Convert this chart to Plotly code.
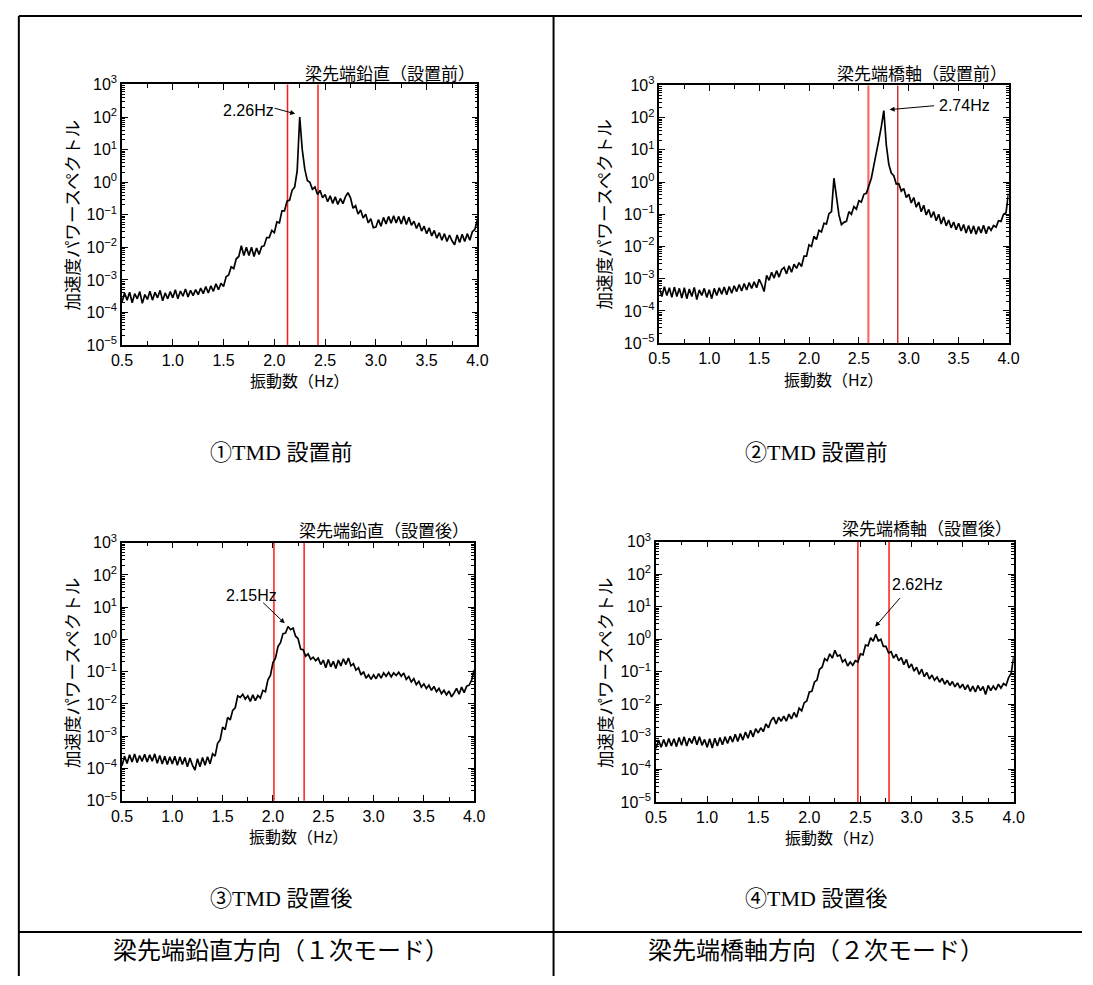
import plotly.graph_objects as go

# ---------------- data ----------------
# frequency grid (Hz), 0.025 Hz spacing, 0.5 .. 4.0
freq = [round(0.5 + 0.025 * i, 3) for i in range(141)]

# log10 of acceleration power spectrum
p1_log10 = [
    -3.68, -3.40, -3.62, -3.38, -3.70, -3.42, -3.58, -3.36, -3.72, -3.45,
    -3.60, -3.35, -3.62, -3.38, -3.55, -3.32, -3.64, -3.40, -3.58, -3.36,
    -3.55, -3.30, -3.58, -3.34, -3.50, -3.28, -3.52, -3.32, -3.48, -3.30,
    -3.45, -3.25, -3.42, -3.20, -3.40, -3.18, -3.35, -3.12, -3.30, -3.10,
    -3.20, -2.90, -2.85, -2.60, -2.65, -2.35, -2.28, -1.95, -2.25, -2.00,
    -2.25, -2.00, -2.28, -2.02, -2.22, -1.98, -1.95, -1.70, -1.70, -1.48,
    -1.55, -1.22, -1.25, -0.88, -0.88, -0.58, -0.55, -0.25, -0.15, 0.35,
    2.00, 1.00, 0.40, 0.05, 0.00, -0.22, -0.15, -0.38, -0.25, -0.48,
    -0.38, -0.60, -0.42, -0.65, -0.45, -0.68, -0.50, -0.66, -0.45, -0.32,
    -0.48, -0.80, -0.72, -0.98, -0.85, -1.10, -0.98, -1.25, -1.12, -1.40,
    -1.38, -1.15, -1.35, -1.08, -1.28, -1.05, -1.26, -1.03, -1.25, -1.05,
    -1.28, -1.04, -1.30, -1.08, -1.32, -1.20, -1.42, -1.25, -1.50, -1.35,
    -1.58, -1.40, -1.65, -1.48, -1.72, -1.55, -1.78, -1.58, -1.82, -1.62,
    -1.80, -1.92, -1.62, -1.85, -1.60, -1.82, -1.58, -1.78, -1.52, -1.45,
    -1.15,
]
p2_log10 = [
    -3.30, -3.55, -3.25, -3.52, -3.28, -3.58, -3.26, -3.55, -3.30, -3.60,
    -3.28, -3.62, -3.32, -3.55, -3.27, -3.65, -3.35, -3.52, -3.30, -3.58,
    -3.34, -3.62, -3.30, -3.52, -3.28, -3.48, -3.26, -3.50, -3.24, -3.45,
    -3.22, -3.40, -3.18, -3.38, -3.15, -3.35, -3.12, -3.30, -3.10, -3.28,
    -3.02, -3.18, -3.40, -2.90, -3.05, -2.80, -2.98, -2.75, -2.95, -2.72,
    -2.65, -2.85, -2.60, -2.80, -2.55, -2.68, -2.50, -2.62, -2.30, -2.30,
    -1.95, -2.00, -1.68, -1.78, -1.50, -1.55, -1.28, -1.30, -0.98, -0.92,
    0.12, -0.45, -1.02, -1.32, -1.25, -1.22, -0.92, -1.00, -0.76, -0.84,
    -0.58, -0.62, -0.38, -0.35, -0.10, 0.12, 0.52, 0.88, 1.30, 1.72,
    2.22, 1.15, 0.55, 0.28, 0.20, -0.06, -0.05, -0.28, -0.20, -0.48,
    -0.38, -0.65, -0.48, -0.78, -0.62, -0.92, -0.72, -1.02, -0.85, -1.10,
    -0.92, -1.20, -1.00, -1.30, -1.08, -1.36, -1.18, -1.42, -1.24, -1.48,
    -1.28, -1.52, -1.32, -1.58, -1.35, -1.60, -1.36, -1.62, -1.38, -1.58,
    -1.34, -1.60, -1.38, -1.50, -1.35, -1.40, -1.20, -1.22, -1.00, -0.95,
    -0.35,
]
p3_log10 = [
    -3.92, -3.62, -3.85, -3.58, -3.80, -3.55, -3.82, -3.60, -3.78, -3.56,
    -3.80, -3.58, -3.78, -3.55, -3.84, -3.60, -3.86, -3.62, -3.88, -3.64,
    -3.86, -3.62, -3.90, -3.64, -3.88, -3.66, -3.95, -3.68, -3.90, -4.05,
    -3.70, -3.95, -3.66, -3.90, -3.64, -3.86, -3.55, -3.62, -3.22, -3.12,
    -2.72, -2.80, -2.42, -2.50, -2.20, -2.12, -1.75, -1.80, -1.70, -1.85,
    -1.75, -1.92, -1.72, -1.90, -1.74, -1.82, -1.58, -1.62, -1.25, -1.12,
    -0.72, -0.58, -0.22, -0.10, 0.18, 0.20, 0.40, 0.30, 0.35, 0.10,
    0.02, -0.30, -0.32, -0.52, -0.45, -0.62, -0.55, -0.66, -0.58, -0.78,
    -0.64, -0.88, -0.62, -0.85, -0.68, -0.90, -0.64, -0.82, -0.60, -0.78,
    -0.58, -0.82, -0.75, -0.95, -0.88, -1.10, -1.00, -1.20, -1.10, -1.24,
    -1.10, -1.22, -1.06, -1.20, -1.04, -1.14, -1.02, -1.16, -1.04, -1.12,
    -1.02, -1.14, -1.04, -1.24, -1.15, -1.32, -1.22, -1.40, -1.30, -1.48,
    -1.38, -1.52, -1.42, -1.58, -1.46, -1.62, -1.52, -1.68, -1.58, -1.72,
    -1.60, -1.78, -1.66, -1.52, -1.70, -1.48, -1.65, -1.45, -1.42, -1.26,
    -0.95,
]
p4_log10 = [
    -3.35, -3.10, -3.32, -3.08, -3.30, -3.05, -3.28, -3.06, -3.30, -3.02,
    -3.26, -3.00, -3.28, -3.04, -3.20, -2.98, -3.24, -3.00, -3.26, -3.08,
    -3.32, -3.06, -3.34, -3.04, -3.28, -3.02, -3.24, -3.00, -3.20, -2.98,
    -3.16, -2.92, -3.14, -2.90, -3.10, -2.85, -3.04, -2.80, -3.00, -2.75,
    -2.88, -2.72, -2.84, -2.60, -2.72, -2.50, -2.40, -2.60, -2.40, -2.52,
    -2.36, -2.52, -2.30, -2.45, -2.25, -2.40, -2.12, -2.20, -1.95, -1.90,
    -1.62, -1.60, -1.32, -1.25, -0.92, -0.86, -0.60, -0.66, -0.45, -0.58,
    -0.34, -0.52, -0.48, -0.70, -0.62, -0.82, -0.70, -0.80, -0.66, -0.70,
    -0.45, -0.48, -0.18, -0.20, 0.05, -0.06, 0.15, -0.05, 0.00, -0.22,
    -0.22, -0.42, -0.38, -0.58, -0.46, -0.66, -0.56, -0.78, -0.62, -0.88,
    -0.76, -0.98, -0.86, -1.08, -0.92, -1.15, -1.02, -1.22, -1.10, -1.26,
    -1.16, -1.32, -1.20, -1.38, -1.26, -1.42, -1.30, -1.46, -1.34, -1.50,
    -1.38, -1.55, -1.40, -1.60, -1.44, -1.62, -1.42, -1.58, -1.45, -1.70,
    -1.42, -1.58, -1.44, -1.56, -1.38, -1.50, -1.36, -1.42, -1.18, -1.05,
    -0.55,
]

panel_titles = ["梁先端鉛直（設置前）", "梁先端橋軸（設置前）",
                "梁先端鉛直（設置後）", "梁先端橋軸（設置後）"]
peak_labels = ["2.26Hz", "2.74Hz", "2.15Hz", "2.62Hz"]
red_lines = [[2.13, 2.43], [2.595, 2.89], [2.01, 2.31], [2.475, 2.78]]
captions = ["①TMD 設置前", "②TMD 設置前", "③TMD 設置後", "④TMD 設置後"]
bottom_labels = ["梁先端鉛直方向（１次モード）", "梁先端橋軸方向（２次モード）"]

x_tick_vals = [0.5, 1.0, 1.5, 2.0, 2.5, 3.0, 3.5, 4.0]
x_tick_text = ["0.5", "1.0", "1.5", "2.0", "2.5", "3.0", "3.5", "4.0"]
y_exponents = [-5, -4, -3, -2, -1, 0, 1, 2, 3]
y_tick_text = ["10<sup>%s</sup>" % (("−%d" % -e) if e < 0 else str(e)) for e in y_exponents]

series = [p1_log10, p2_log10, p3_log10, p4_log10]

# ---------------- layout geometry (pixels) ----------------
W, H = 1093, 985
FONT_LAT = "Liberation Sans, Arial, sans-serif"
FONT_JP = "Noto Sans CJK JP, sans-serif"
FONT_CAP = "Liberation Serif, Noto Sans CJK JP, serif"

geo = [
    dict(x=(113.3, 476.0), y=(75.0, 341.0), title=(476.0, 62.5), ytitle=(62.0, 209.0), xtitle=377.0,
         lab=(1.742, 2.19), head=(2.205, 2.10), tail=(-22, -6)),
    dict(x=(661.7, 1018.0), y=(76.0, 339.0), title=(1018.0, 63.0), ytitle=(605.0, 208.0), xtitle=376.0,
         lab=(3.555, 2.37), head=(2.808, 2.25), tail=(46, -4)),
    dict(x=(113.3, 472.7), y=(542.7, 806.0), title=(469.0, 529.0), ytitle=(62.0, 676.0), xtitle=842.0,
         lab=(1.789, 1.36), head=(2.117, 0.50), tail=(-23, -22)),
    dict(x=(658.3, 1023.3), y=(541.7, 807.3), title=(1023.5, 527.5), ytitle=(605.0, 676.0), xtitle=843.0,
         lab=(3.057, 1.67), head=(2.645, 0.39), tail=(26, -30)),
]
red_styles = [
    [dict(color="#ff1a1a", width=1.5), dict(color="#ff1a1a", width=1.5)],
    [dict(color="#ff6b6b", width=2.2), dict(color="#c40000", width=1.2)],
    [dict(color="#ff1a1a", width=1.5), dict(color="#ff1a1a", width=1.5)],
    [dict(color="#ff1a1a", width=1.5), dict(color="#ff1a1a", width=1.5)],
]


def fx(p):
    return p / W


def fy(p):
    return 1 - p / H


fig = go.Figure()
layout = dict(width=W, height=H, margin=dict(l=0, r=0, t=0, b=0),
              paper_bgcolor="white", plot_bgcolor="white", showlegend=False)
shapes = []
annotations = []

y_minor = [m * 10.0 ** e for e in range(-5, 3) for m in range(2, 10)]

for i, (vals, g) in enumerate(zip(series, geo), start=1):
    xa = "x" if i == 1 else "x%d" % i
    ya = "y" if i == 1 else "y%d" % i
    xk = "xaxis" if i == 1 else "xaxis%d" % i
    yk = "yaxis" if i == 1 else "yaxis%d" % i

    for xv, st in zip(red_lines[i - 1], red_styles[i - 1]):
        shapes.append(dict(type="line", xref=xa, yref=ya + " domain", x0=xv, x1=xv, y0=0, y1=1,
                           line=st, layer="below"))

    fig.add_trace(go.Scatter(x=freq, y=[10 ** v for v in vals], mode="lines",
                             line=dict(color="black", width=1.7), xaxis=xa, yaxis=ya,
                             hoverinfo="skip"))

    layout[xk] = dict(domain=[fx(g["x"][0]), fx(g["x"][1])], anchor=ya, range=[0.5, 4.0],
                      tickmode="array", tickvals=x_tick_vals, ticktext=x_tick_text,
                      ticks="inside", ticklen=6, tickwidth=1, tickcolor="black",
                      mirror="allticks", showline=True, linecolor="black", linewidth=1.5,
                      showgrid=False, zeroline=False,
                      minor=dict(tickvals=[v + 0.25 for v in x_tick_vals[:-1]], ticks="inside",
                                 ticklen=4, tickcolor="black", showgrid=False),
                      tickfont=dict(family=FONT_LAT, size=16, color="black"))
    layout[yk] = dict(domain=[fy(g["y"][1]), fy(g["y"][0])], anchor=xa, type="log", range=[-5, 3],
                      tickmode="array", tickvals=[10.0 ** e for e in y_exponents], ticktext=y_tick_text,
                      ticks="inside", ticklen=6, tickwidth=1, tickcolor="black",
                      mirror="allticks", showline=True, linecolor="black", linewidth=1.5,
                      showgrid=False, zeroline=False,
                      minor=dict(tickvals=y_minor, ticks="inside", ticklen=3, tickcolor="black",
                                 showgrid=False),
                      tickfont=dict(family=FONT_LAT, size=16, color="black"))

    annotations.append(dict(text=panel_titles[i - 1], xref="paper", yref="paper",
                            x=fx(g["title"][0]), y=fy(g["title"][1]), xanchor="right", yanchor="middle",
                            showarrow=False, font=dict(family=FONT_JP, size=17, color="black")))
    annotations.append(dict(text="加速度パワースペクトル", xref="paper", yref="paper",
                            x=fx(g["ytitle"][0]), y=fy(g["ytitle"][1]), xanchor="center", yanchor="middle",
                            textangle=-90, showarrow=False,
                            font=dict(family=FONT_JP, size=17.5, color="black")))
    annotations.append(dict(text="振動数（Hz）", xref="paper", yref="paper",
                            x=fx((g["x"][0] + g["x"][1]) / 2), y=fy(g["xtitle"]),
                            xanchor="center", yanchor="middle", showarrow=False,
                            font=dict(family=FONT_JP, size=16, color="black")))
    annotations.append(dict(text=peak_labels[i - 1], xref=xa, yref=ya, x=g["lab"][0], y=g["lab"][1],
                            xanchor="center", yanchor="middle", showarrow=False,
                            font=dict(family=FONT_LAT, size=16, color="black")))
    annotations.append(dict(text="", xref=xa, yref=ya, x=g["head"][0], y=g["head"][1],
                            ax=g["tail"][0], ay=g["tail"][1], showarrow=True, arrowhead=2,
                            arrowsize=1, arrowwidth=1, arrowcolor="black"))

cap_pos = [(276, 451), (822, 451), (276, 906), (822, 906)]
for t, (cx, cy) in zip(captions, cap_pos):
    annotations.append(dict(text=t, xref="paper", yref="paper", x=fx(cx), y=fy(cy),
                            xanchor="center", yanchor="middle", showarrow=False,
                            font=dict(family=FONT_CAP, size=22, color="black")))
for t, cx in zip(bottom_labels, [276, 822]):
    annotations.append(dict(text=t, xref="paper", yref="paper", x=fx(cx), y=fy(957),
                            xanchor="center", yanchor="middle", showarrow=False,
                            font=dict(family=FONT_JP, size=24, color="black")))

frame = dict(color="black", width=2)
shapes += [
    dict(type="line", xref="paper", yref="paper", x0=fx(8), x1=1, y0=fy(5), y1=fy(5), line=frame),
    dict(type="line", xref="paper", yref="paper", x0=fx(8), x1=fx(8), y0=fy(5), y1=0, line=frame),
    dict(type="line", xref="paper", yref="paper", x0=fx(553.7), x1=fx(553.7), y0=fy(5), y1=0, line=frame),
    dict(type="line", xref="paper", yref="paper", x0=fx(8), x1=1, y0=fy(940), y1=fy(940), line=frame),
]

layout["shapes"] = shapes
layout["annotations"] = annotations
fig.update_layout(**layout)

fix_page = (
    "document.documentElement.style.margin='0';"
    "document.documentElement.style.padding='0';"
    "document.documentElement.style.overflow='hidden';"
    "document.body.style.margin='0';"
    "document.body.style.padding='0';"
    "document.body.style.overflow='hidden';"
    "var gd=document.getElementById('{plot_id}');"
    "if(gd){gd.style.position='absolute';gd.style.left='0px';gd.style.top='0px';}"
)
fig.write_html("out.html", config={"displayModeBar": False}, post_script=fix_page)
